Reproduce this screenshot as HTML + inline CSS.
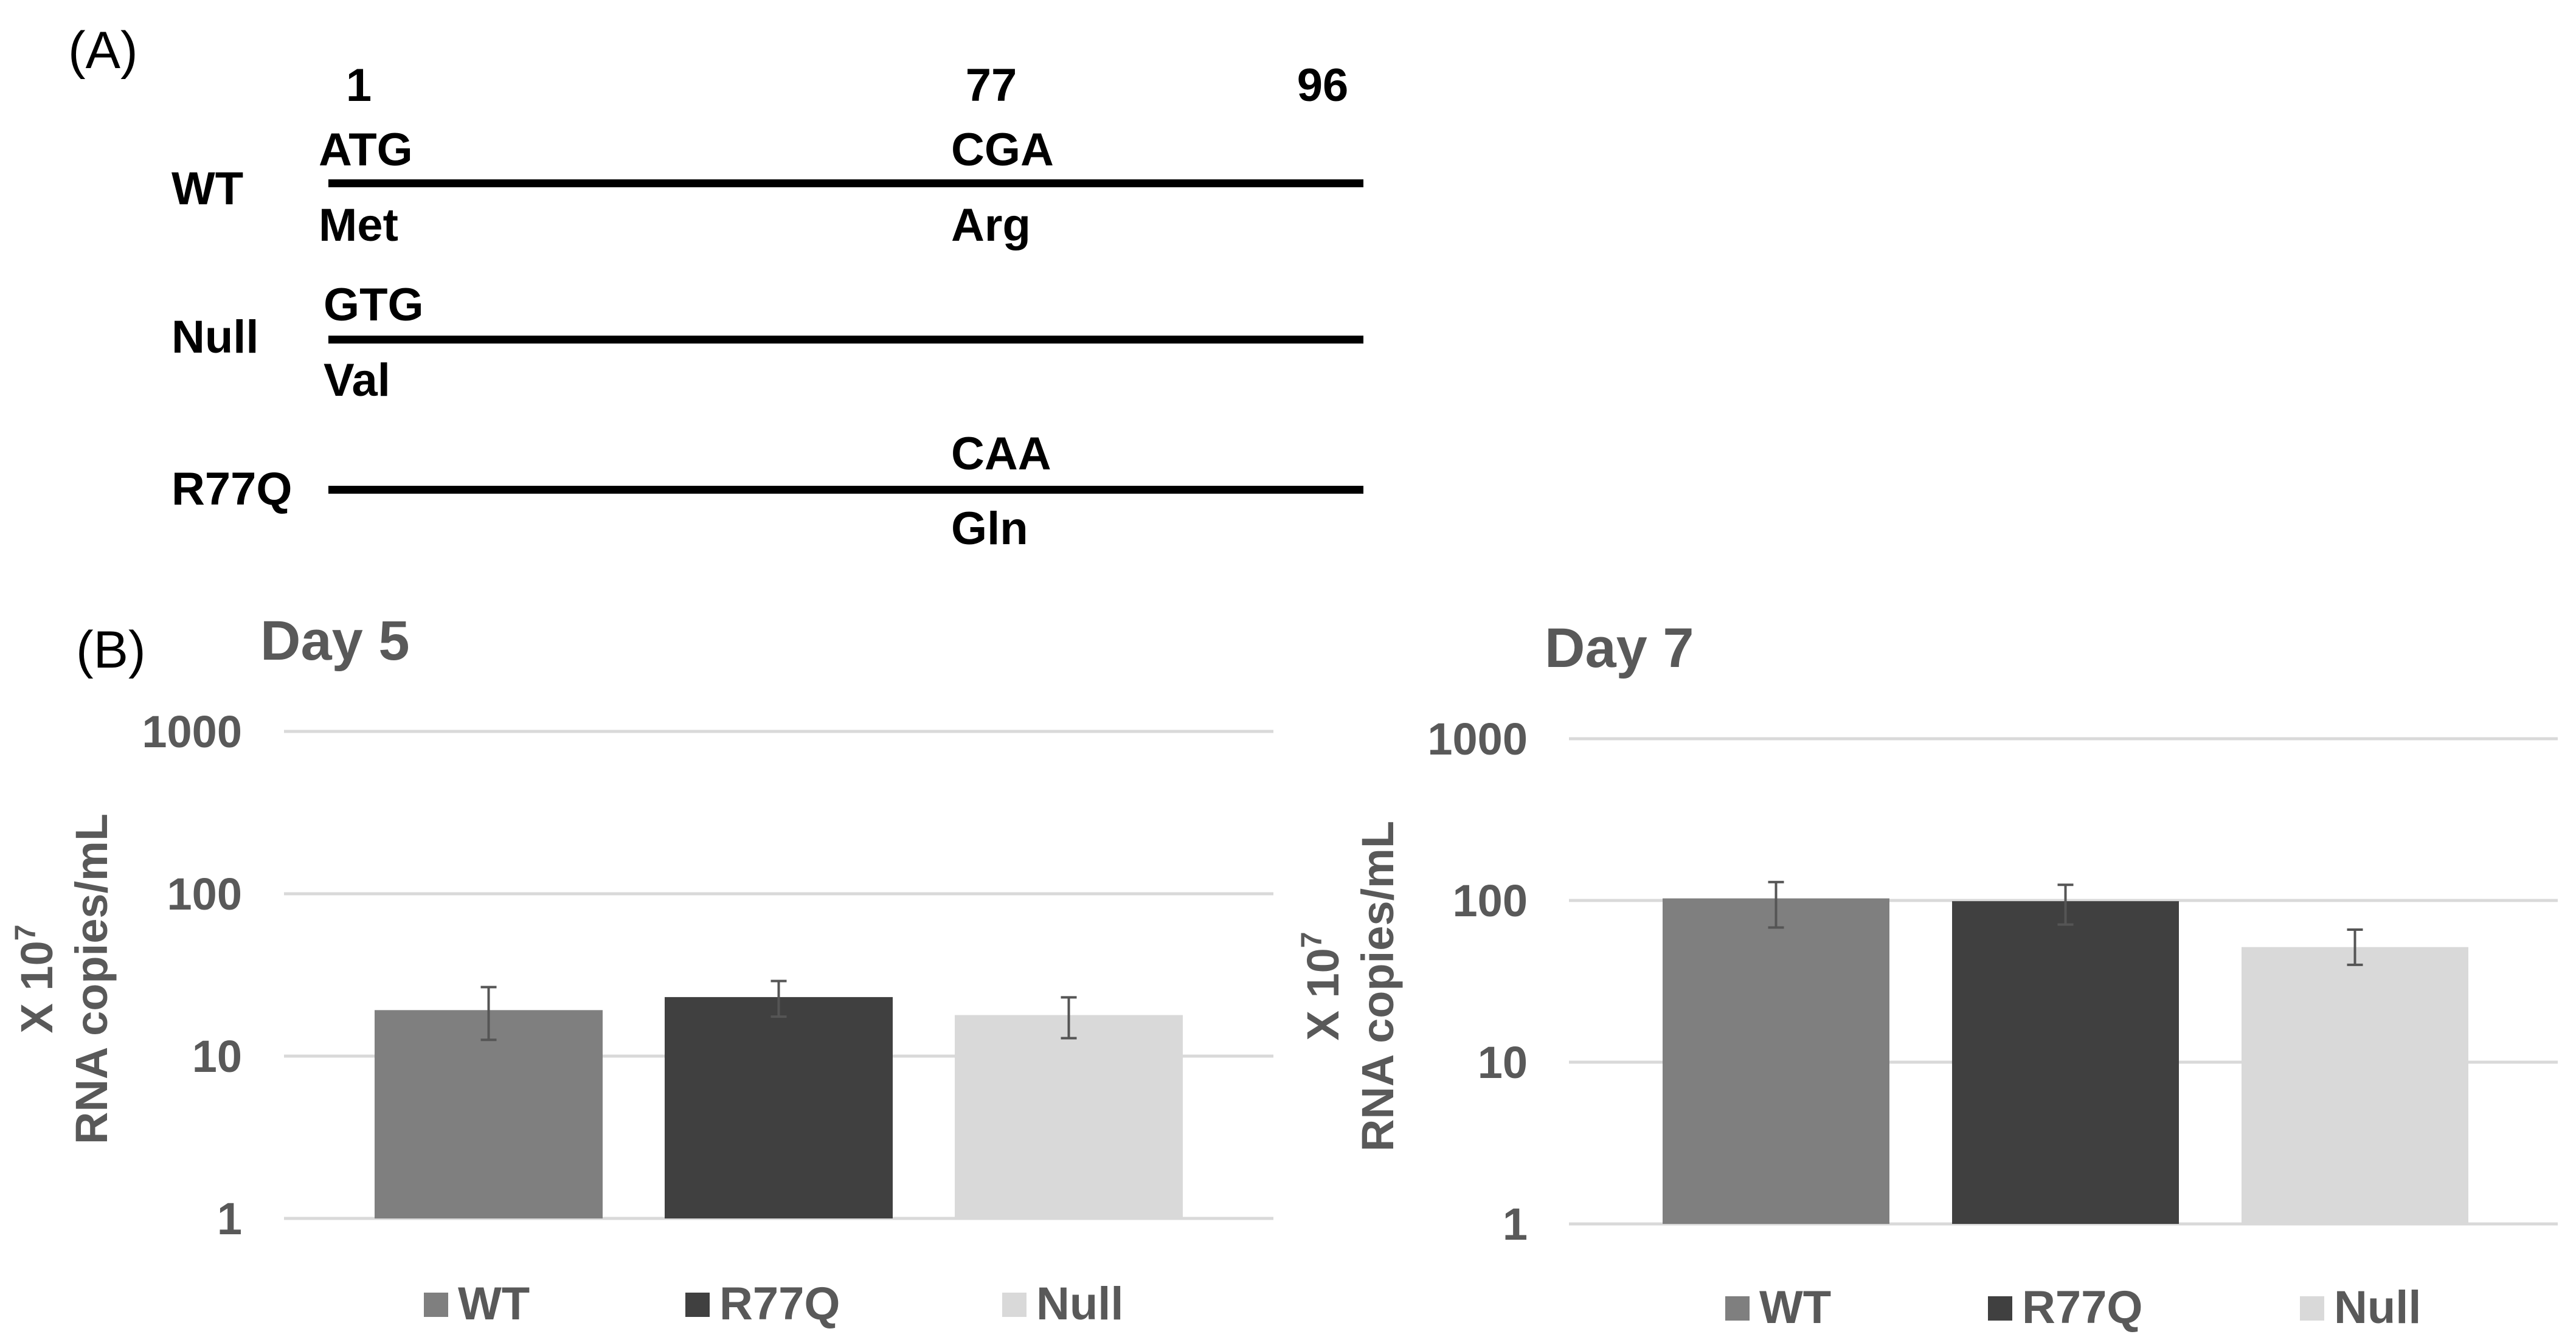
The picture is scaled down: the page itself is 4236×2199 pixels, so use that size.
<!DOCTYPE html>
<html><head><meta charset="utf-8"><style>
html,body{margin:0;padding:0;background:#fff;}
svg{display:block;}
.a{font-family:"Liberation Sans Narrow","Liberation Sans",sans-serif;font-weight:bold;font-size:76px;fill:#000;}
.t{font-family:"Liberation Sans",sans-serif;font-weight:bold;fill:#595959;}
</style></head><body>
<svg id="fig" width="4236" height="2199" viewBox="0 0 4236 2199" xmlns="http://www.w3.org/2000/svg">
<g>
<text x="112" y="112" font-family="Liberation Sans, sans-serif" font-size="86">(A)</text>
<text class="a" x="590" y="166" text-anchor="middle">1</text>
<text class="a" x="1630" y="166" text-anchor="middle">77</text>
<text class="a" x="2175" y="166" text-anchor="middle">96</text>
<text class="a" x="282" y="336">WT</text>
<text class="a" x="282" y="580">Null</text>
<text class="a" x="282" y="830">R77Q</text>
<rect x="540" y="295" width="1702" height="13" fill="#000"/>
<rect x="540" y="552" width="1702" height="13" fill="#000"/>
<rect x="540" y="799" width="1702" height="13" fill="#000"/>
<text class="a" x="524" y="272">ATG</text>
<text class="a" x="1564" y="272">CGA</text>
<text class="a" x="524" y="396">Met</text>
<text class="a" x="1564" y="396">Arg</text>
<text class="a" x="532" y="527">GTG</text>
<text class="a" x="532" y="651">Val</text>
<text class="a" x="1564" y="772">CAA</text>
<text class="a" x="1564" y="895">Gln</text>
</g>
<text x="125" y="1098" font-family="Liberation Sans, sans-serif" font-size="86">(B)</text>
<g id="c1"></g>
<g id="c2"></g>
</svg>
<script>
const categories = ["WT", "R77Q", "Null"];
const day5Values = [19.2, 23.1, 17.9];
const day5Upper = [26.6, 29, 23];
const day5Lower = [12.6, 17.5, 12.9];
const day7Values = [103, 99, 51.5];
const day7Upper = [130, 125, 66];
const day7Lower = [68, 71, 40];
const tickValues = [1, 10, 100, 1000];
const tickLabels = ["1", "10", "100", "1000"];
const colors = ["#7f7f7f", "#404040", "#d9d9d9"];
const NS = "http://www.w3.org/2000/svg";
function mk(p, tag, at){const e=document.createElementNS(NS,tag);for(const k in at)e.setAttribute(k,at[k]);p.appendChild(e);return e;}
function draw(g, cfg, vals, up, lo){
  const yS = v => cfg.y1 - Math.log10(v)*cfg.dec;
  const barX = i => cfg.bx0 + i*cfg.step;
  const tt = mk(g,"text",{x:cfg.titleX,y:cfg.titleY,class:"t","font-size":"92"});tt.textContent=cfg.title;
  
  
  tickValues.forEach((v,i)=>{
    const l=mk(g,"line",{x1:cfg.gx0,x2:cfg.gx1,y1:yS(v),y2:yS(v),stroke:"#d9d9d9","stroke-width":"5"});
    
    
    const t=mk(g,"text",{x:cfg.tickX,y:yS(v)+26,class:"t","font-size":"74","text-anchor":"end"});t.textContent=tickLabels[i];
    
    
  });
  const yt=mk(g,"text",{class:"t","font-size":"74","text-anchor":"middle",transform:`translate(${cfg.ytX},${cfg.ytY}) rotate(-90)`});
  
  
  const s1=mk(yt,"tspan",{x:"0",dy:"-14"});s1.textContent="X 10";
  const s2=mk(yt,"tspan",{dy:"-28","font-size":"48"});s2.textContent="7";
  const s3=mk(yt,"tspan",{x:"0",dy:"118"});s3.textContent="RNA copies/mL";
  vals.forEach((v,i)=>{
    const x=barX(i);
    const r=mk(g,"rect",{x:x,y:yS(v),width:cfg.bw,height:yS(1)-yS(v),fill:colors[i]});
    
    
    const cx=x+cfg.bw/2;
    const e=mk(g,"path",{d:`M${cx},${yS(up[i])}V${yS(lo[i])}M${cx-13},${yS(up[i])}H${cx+13}M${cx-13},${yS(lo[i])}H${cx+13}`,stroke:"#555","stroke-width":"4",fill:"none"});
    
    
    const sq=mk(g,"rect",{x:cfg.legSq[i],y:cfg.legY-44,width:40,height:40,fill:colors[i]});
    
    
    const lt=mk(g,"text",{x:cfg.legSq[i]+56,y:cfg.legY,class:"t","font-size":"76","font-family":"Liberation Sans Narrow, Liberation Sans, sans-serif"});lt.textContent=categories[i];
    
    
  });
}
draw(document.getElementById("c1"),{title:"Day 5",titleX:428,titleY:1085,gx0:467,gx1:2094,y1:2004,dec:267,tickX:398,bx0:616,step:477,bw:375,ytX:100,ytY:1610,legY:2170,legSq:[697,1127,1648]},day5Values,day5Upper,day5Lower);
draw(document.getElementById("c2"),{title:"Day 7",titleX:2540,titleY:1097,gx0:2580,gx1:4206,y1:2013,dec:266,tickX:2512,bx0:2734,step:476,bw:373,ytX:2215,ytY:1622,legY:2176,legSq:[2837,3269,3782]},day7Values,day7Upper,day7Lower);
</script>
</body></html>
